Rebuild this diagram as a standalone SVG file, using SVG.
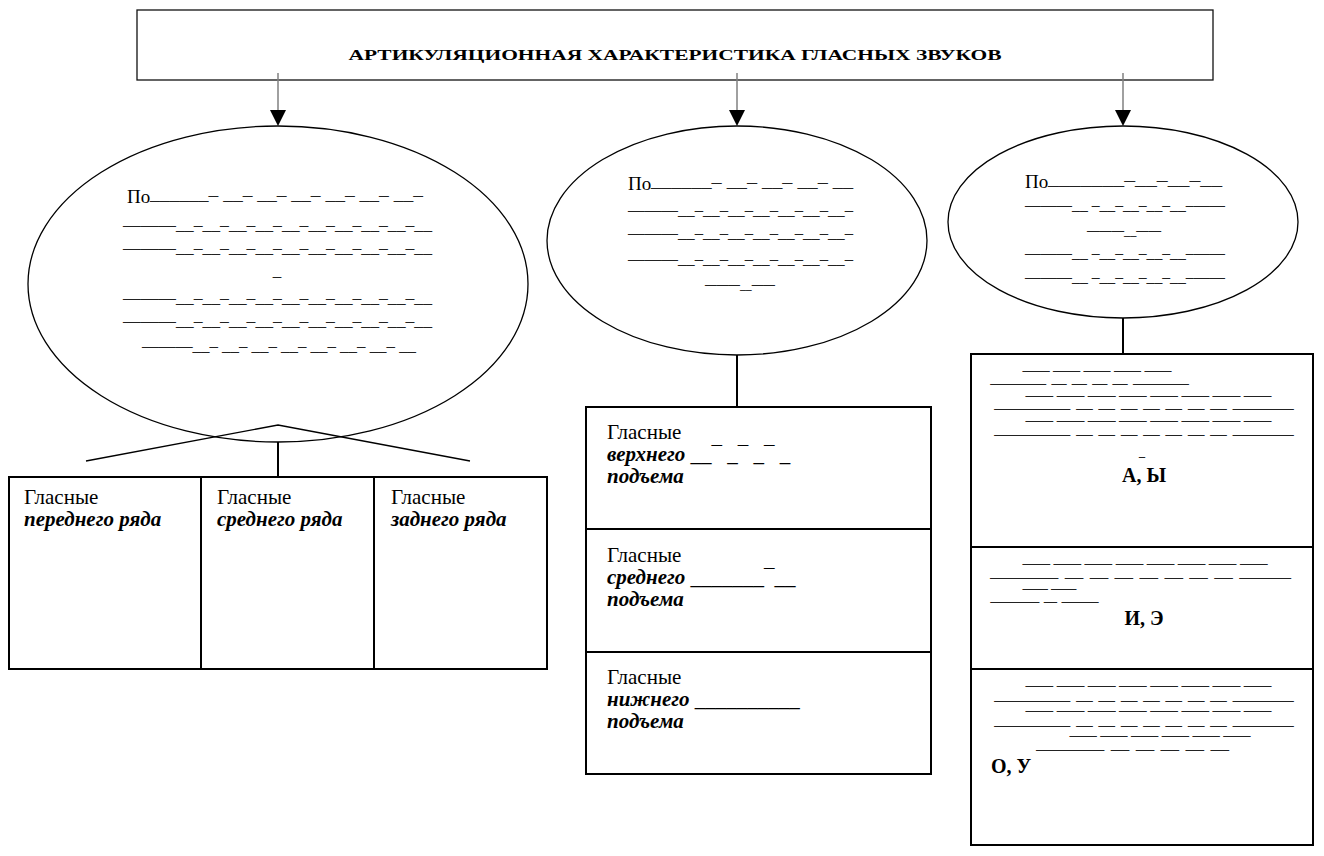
<svg xmlns="http://www.w3.org/2000/svg" width="1324" height="856" viewBox="0 0 1324 856">
<style>
text{font-family:"Liberation Serif","DejaVu Serif",serif;fill:#000}
.t{font-size:21px}
.bi{font-size:21px;font-weight:bold;font-style:italic}
.b{font-size:20px;font-weight:bold}
.po{font-size:19px}
.d{font-size:17px;fill:#222}
.s{font-size:11px;fill:#222;stroke:#222;stroke-width:0.5}
.box{fill:#fff;stroke:#000;stroke-width:2}
.ell{fill:#fff;stroke:#000;stroke-width:1.3}
.ln{stroke:#000;stroke-width:2;fill:none}
.arr{stroke:#808080;stroke-width:1.5}
</style>

<g id="title">
<rect x="137" y="10" width="1076" height="70" fill="#fff" stroke="#111" stroke-width="1.3"/>
<text x="675" y="60" text-anchor="middle" style="font-size:15px;font-weight:bold" textLength="653" lengthAdjust="spacingAndGlyphs">АРТИКУЛЯЦИОННАЯ  ХАРАКТЕРИСТИКА  ГЛАСНЫХ  ЗВУКОВ</text>
</g>

<g id="connectors">
<line class="arr" x1="278" y1="73" x2="278" y2="110"/>
<path d="M270,110 L286,110 L278,126 Z" fill="#000"/>
<line class="arr" x1="737" y1="73" x2="737" y2="110"/>
<path d="M729,110 L745,110 L737,126 Z" fill="#000"/>
<line class="arr" x1="1123" y1="73" x2="1123" y2="110"/>
<path d="M1115,110 L1131,110 L1123,126 Z" fill="#000"/>
<line class="ln" x1="278" y1="442" x2="278" y2="477"/>
<line class="ln" x1="737" y1="355" x2="737" y2="407"/>
<line class="ln" x1="1123" y1="318" x2="1123" y2="354"/>
</g>

<g id="ellipse-row">
<ellipse class="ell" cx="278" cy="284" rx="250" ry="158"/>
<polyline points="86,461 278,425 470,461" fill="none" stroke="#000" stroke-width="1.3"/>
<text class="po" x="127" y="203">По</text>
<text class="d" x="150" y="200" textLength="273" lengthAdjust="spacingAndGlyphs">______– __– __– __– __– __– __–</text>
<text class="d" x="123" y="230" textLength="309" lengthAdjust="spacingAndGlyphs">———__–__–__–__–__–__–__–__–__–__</text>
<text class="d" x="123" y="253" textLength="309" lengthAdjust="spacingAndGlyphs">———__–__–__–__–__–__–__–__–__–__</text>
<text class="d" x="277" y="276" text-anchor="middle">_</text>
<text class="d" x="123" y="303" textLength="309" lengthAdjust="spacingAndGlyphs">———__–__–__–__–__–__–__–__–__–__</text>
<text class="d" x="123" y="326" textLength="309" lengthAdjust="spacingAndGlyphs">———__–__–__–__–__–__–__–__–__–__</text>
<text class="d" x="142" y="351" textLength="274" lengthAdjust="spacingAndGlyphs">———__– __– __– __– __– __– __– __</text>
</g>

<g id="ellipse-rise">
<ellipse class="ell" cx="737" cy="240.5" rx="190" ry="114.5"/>
<text class="po" x="628" y="190">По</text>
<text class="d" x="651" y="187" textLength="202" lengthAdjust="spacingAndGlyphs">______– __– __– __– __</text>
<text class="d" x="628" y="215" textLength="225" lengthAdjust="spacingAndGlyphs">———__–__–__–__–__–__–__–</text>
<text class="d" x="628" y="238" textLength="225" lengthAdjust="spacingAndGlyphs">———__–__–__–__–__–__–__–</text>
<text class="d" x="628" y="264" textLength="225" lengthAdjust="spacingAndGlyphs">———__–__–__–__–__–__–__–</text>
<text class="d" x="705" y="289" textLength="70" lengthAdjust="spacingAndGlyphs">———__——</text>
</g>

<g id="ellipse-lips">
<ellipse class="ell" cx="1123" cy="222" rx="175" ry="96"/>
<text class="po" x="1025" y="188">По</text>
<text class="d" x="1048" y="185" textLength="174" lengthAdjust="spacingAndGlyphs">_______–__–__–__</text>
<text class="d" x="1025" y="210" textLength="200" lengthAdjust="spacingAndGlyphs">———__ –__–__–__–__–——</text>
<text class="d" x="1087" y="235" textLength="74" lengthAdjust="spacingAndGlyphs">———__——</text>
<text class="d" x="1025" y="258" textLength="200" lengthAdjust="spacingAndGlyphs">———__ –__–__–__–__–——</text>
<text class="d" x="1025" y="282" textLength="200" lengthAdjust="spacingAndGlyphs">———__ –__–__–__–__–——</text>
</g>

<g id="row-table">
<rect class="box" x="9" y="477" width="538" height="192"/>
<line class="ln" x1="201" y1="477" x2="201" y2="669"/>
<line class="ln" x1="374" y1="477" x2="374" y2="669"/>
<text class="t" x="24" y="504">Гласные</text>
<text class="bi" x="24" y="526">переднего ряда</text>
<text class="t" x="217" y="504">Гласные</text>
<text class="bi" x="217" y="526">среднего ряда</text>
<text class="t" x="391" y="504">Гласные</text>
<text class="bi" x="391" y="526">заднего ряда</text>
</g>

<g id="rise-table">
<rect class="box" x="586" y="407" width="345" height="367"/>
<line class="ln" x1="586" y1="529" x2="931" y2="529"/>
<line class="ln" x1="586" y1="652" x2="931" y2="652"/>
<text class="t" x="607" y="439">Гласные</text>
<text x="607" y="461"><tspan class="bi">верхнего</tspan><tspan class="t"> __¯ _¯ _¯ _</tspan></text>
<text class="bi" x="607" y="483">подъема</text>
<text class="t" x="607" y="562">Гласные</text>
<text x="607" y="584"><tspan class="bi">среднего</tspan><tspan class="t"> _______¯__</tspan></text>
<text class="bi" x="607" y="606">подъема</text>
<text class="t" x="607" y="684">Гласные</text>
<text x="607" y="706"><tspan class="bi">нижнего</tspan><tspan class="t"> __________</tspan></text>
<text class="bi" x="607" y="728">подъема</text>
</g>

<g id="lips-table">
<rect class="box" x="971" y="354" width="342" height="491"/>
<line class="ln" x1="971" y1="547" x2="1313" y2="547"/>
<line class="ln" x1="971" y1="669" x2="1313" y2="669"/>
<text class="s" x="1023" y="370" textLength="148" lengthAdjust="spacingAndGlyphs">___ ___ ___ ___ ___</text>
<text class="s" x="991" y="383" textLength="197" lengthAdjust="spacingAndGlyphs">____  _   _   _   _  ____</text>
<text class="s" x="1026" y="395" textLength="245" lengthAdjust="spacingAndGlyphs">___ ___ ___ ___ ___ ___ ___ ___</text>
<text class="s" x="995" y="408" textLength="298" lengthAdjust="spacingAndGlyphs">_____  _   _   _   _   _   _   _  ____</text>
<text class="s" x="1026" y="420" textLength="245" lengthAdjust="spacingAndGlyphs">___ ___ ___ ___ ___ ___ ___ ___</text>
<text class="s" x="995" y="434" textLength="298" lengthAdjust="spacingAndGlyphs">_____  _   _   _   _   _   _   _  ____</text>
<text class="s" x="1142" y="456" text-anchor="middle">_</text>
<text class="b" x="1144" y="482" text-anchor="middle">А, Ы</text>
<text class="s" x="1023" y="563" textLength="244" lengthAdjust="spacingAndGlyphs">___ ___ ___ ___ ___ ___ ___ ___</text>
<text class="s" x="991" y="577" textLength="299" lengthAdjust="spacingAndGlyphs">____  _   _   _   _   _   _   _  ___</text>
<text class="s" x="1023" y="588" textLength="53" lengthAdjust="spacingAndGlyphs">___ ___</text>
<text class="s" x="991" y="601" textLength="107" lengthAdjust="spacingAndGlyphs">____  _  ___</text>
<text class="b" x="1144" y="625" text-anchor="middle">И, Э</text>
<text class="s" x="1026" y="685" textLength="245" lengthAdjust="spacingAndGlyphs">___ ___ ___ ___ ___ ___ ___ ___</text>
<text class="s" x="995" y="700" textLength="298" lengthAdjust="spacingAndGlyphs">_____  _   _   _   _   _   _   _  ____</text>
<text class="s" x="1026" y="710" textLength="245" lengthAdjust="spacingAndGlyphs">___ ___ ___ ___ ___ ___ ___ ___</text>
<text class="s" x="995" y="725" textLength="298" lengthAdjust="spacingAndGlyphs">_____  _   _   _   _   _   _   _  ____</text>
<text class="s" x="1070" y="735" textLength="180" lengthAdjust="spacingAndGlyphs">___ ___ ___ ___ ___ ___</text>
<text class="s" x="1037" y="749" textLength="191" lengthAdjust="spacingAndGlyphs">____  _   _   _   _   _</text>
<text class="b" x="991" y="773">О, У</text>
</g>
</svg>
